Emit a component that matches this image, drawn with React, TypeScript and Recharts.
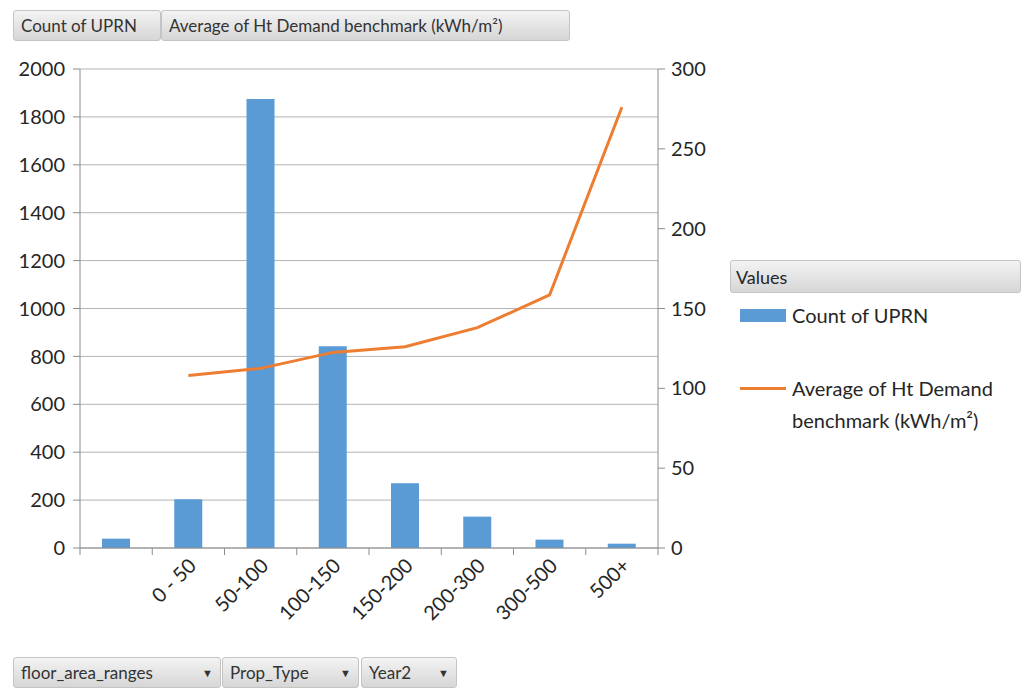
import {
  ComposedChart,
  Bar,
  Line,
  XAxis,
  YAxis,
  CartesianGrid,
  Legend,
} from 'recharts';

const floorAreaRanges = ['', '0 - 50', '50-100', '100-150', '150-200', '200-300', '300-500', '500+'];
const countOfUprn = [39, 204, 1875, 842, 270, 131, 35, 18];
const avgHtDemand = [null, 108, 112.5, 122.5, 126, 138, 158.5, 276];
const leftTicks = [0, 200, 400, 600, 800, 1000, 1200, 1400, 1600, 1800, 2000];
const rightTicks = [0, 50, 100, 150, 200, 250, 300];

const countName = 'Count of UPRN';
const demandName = 'Average of Ht Demand benchmark (kWh/m²)';

const data = floorAreaRanges.map((range, i) => ({
  range,
  count: countOfUprn[i],
  demand: avgHtDemand[i],
}));

const FONT = 'Lato, "Open Sans", sans-serif';
const AXIS_GREY = '#8c8c8c';
const GRID_GREY = '#b3b3b3';
const TEXT = '#262626';

const buttonStyle: React.CSSProperties = {
  position: 'absolute',
  boxSizing: 'border-box',
  height: 31,
  padding: '0 7px',
  display: 'flex',
  alignItems: 'center',
  fontFamily: FONT,
  fontSize: 17,
  color: '#333',
  background: 'linear-gradient(#f3f3f3, #d6d6d6)',
  border: '1px solid #c4c4c4',
  borderRadius: 3,
  whiteSpace: 'nowrap',
};

// category labels sit at the band centre, tick marks on the band edges (Excel style)
function CategoryTick(props: any) {
  const { x, y, payload, width, visibleTicksCount, index } = props;
  const band = width / visibleTicksCount;
  return (
    <g>
      <line x1={x - band / 2} y1={y} x2={x - band / 2} y2={y + 7} stroke={AXIS_GREY} />
      {index === visibleTicksCount - 1 && (
        <line x1={x + band / 2} y1={y} x2={x + band / 2} y2={y + 7} stroke={AXIS_GREY} />
      )}
      <text
        x={x + 9}
        y={y + 19}
        transform={`rotate(-45 ${x + 9} ${y + 19})`}
        textAnchor="end"
        fill={TEXT}
        fontSize={20}
        fontFamily={FONT}
      >
        {payload.value}
      </text>
    </g>
  );
}

// pivot-chart style legend: bar series first, then the line
function ValuesLegend({ payload }: any) {
  const items = [...(payload || [])].sort((a: any, b: any) => (a.type === 'line' ? 1 : 0) - (b.type === 'line' ? 1 : 0));
  return (
    <div style={{ fontFamily: FONT, color: TEXT, width: 291 }}>
      <div
        style={{
          height: 33,
          boxSizing: 'border-box',
          padding: '0 5px',
          display: 'flex',
          alignItems: 'center',
          fontSize: 18,
          background: 'linear-gradient(#f3f3f3, #d6d6d6)',
          border: '1px solid #c4c4c4',
          borderRadius: 3,
        }}
      >
        Values
      </div>
      {items.map((item: any) => (
        <div
          key={item.value}
          style={{ display: 'flex', alignItems: 'flex-start', marginTop: item.type === 'line' ? 45 : 10, paddingLeft: 10 }}
        >
          <div style={{ width: 46, height: 24, display: 'flex', alignItems: 'center', flexShrink: 0 }}>
            {item.type === 'line' ? (
              <div style={{ width: 46, height: 3, background: item.color }} />
            ) : (
              <div style={{ width: 46, height: 13, background: item.color }} />
            )}
          </div>
          <div style={{ marginLeft: 6, fontSize: 20, lineHeight: '32px', marginTop: -4, width: 228 }}>{item.value}</div>
        </div>
      ))}
    </div>
  );
}

export default function App() {
  return (
    <div style={{ position: 'absolute', left: 0, top: 0, width: 1021, height: 688, background: '#fff' }}>
      <div style={{ ...buttonStyle, left: 13, top: 10, width: 148 }}>{countName}</div>
      <div style={{ ...buttonStyle, left: 161, top: 10, width: 409 }}>{demandName}</div>

      <ComposedChart
        width={1021}
        height={688}
        data={data}
        margin={{ top: 69, right: 303, bottom: 40, left: 10 }}
      >
        <CartesianGrid yAxisId="left" vertical={false} stroke={GRID_GREY} />
        <XAxis
          dataKey="range"
          interval={0}
          height={100}
          tickSize={0}
          tickMargin={0}
          tickLine={false}
          axisLine={{ stroke: AXIS_GREY }}
          tick={<CategoryTick />}
        />
        <YAxis
          yAxisId="left"
          domain={[0, 2000]}
          ticks={leftTicks}
          width={70}
          tickSize={7}
          tickMargin={8}
          axisLine={{ stroke: AXIS_GREY }}
          tickLine={{ stroke: AXIS_GREY }}
          tick={{ fill: TEXT, fontSize: 20, fontFamily: FONT }}
        />
        <YAxis
          yAxisId="right"
          orientation="right"
          domain={[0, 300]}
          ticks={rightTicks}
          width={60}
          tickSize={7}
          tickMargin={6}
          axisLine={{ stroke: AXIS_GREY }}
          tickLine={{ stroke: AXIS_GREY }}
          tick={{ fill: TEXT, fontSize: 20, fontFamily: FONT }}
        />
        <Legend
          layout="horizontal"
          align="center"
          verticalAlign="middle"
          content={<ValuesLegend />}
          wrapperStyle={{ left: 730, top: 260, width: 291 }}
        />
        <Bar
          yAxisId="left"
          dataKey="count"
          name={countName}
          fill="#5b9bd5"
          barSize={28}
          isAnimationActive={false}
        />
        <Line
          yAxisId="right"
          dataKey="demand"
          name={demandName}
          type="linear"
          stroke="#ed7d31"
          strokeWidth={3}
          dot={false}
          activeDot={false}
          isAnimationActive={false}
        />
      </ComposedChart>

      <div style={{ ...buttonStyle, left: 13, top: 657, width: 208, justifyContent: 'space-between' }}>
        <span>floor_area_ranges</span>
        <span style={{ fontSize: 11 }}>▼</span>
      </div>
      <div style={{ ...buttonStyle, left: 222, top: 657, width: 137, justifyContent: 'space-between' }}>
        <span>Prop_Type</span>
        <span style={{ fontSize: 11 }}>▼</span>
      </div>
      <div style={{ ...buttonStyle, left: 361, top: 657, width: 96, justifyContent: 'space-between' }}>
        <span>Year2</span>
        <span style={{ fontSize: 11 }}>▼</span>
      </div>
    </div>
  );
}
